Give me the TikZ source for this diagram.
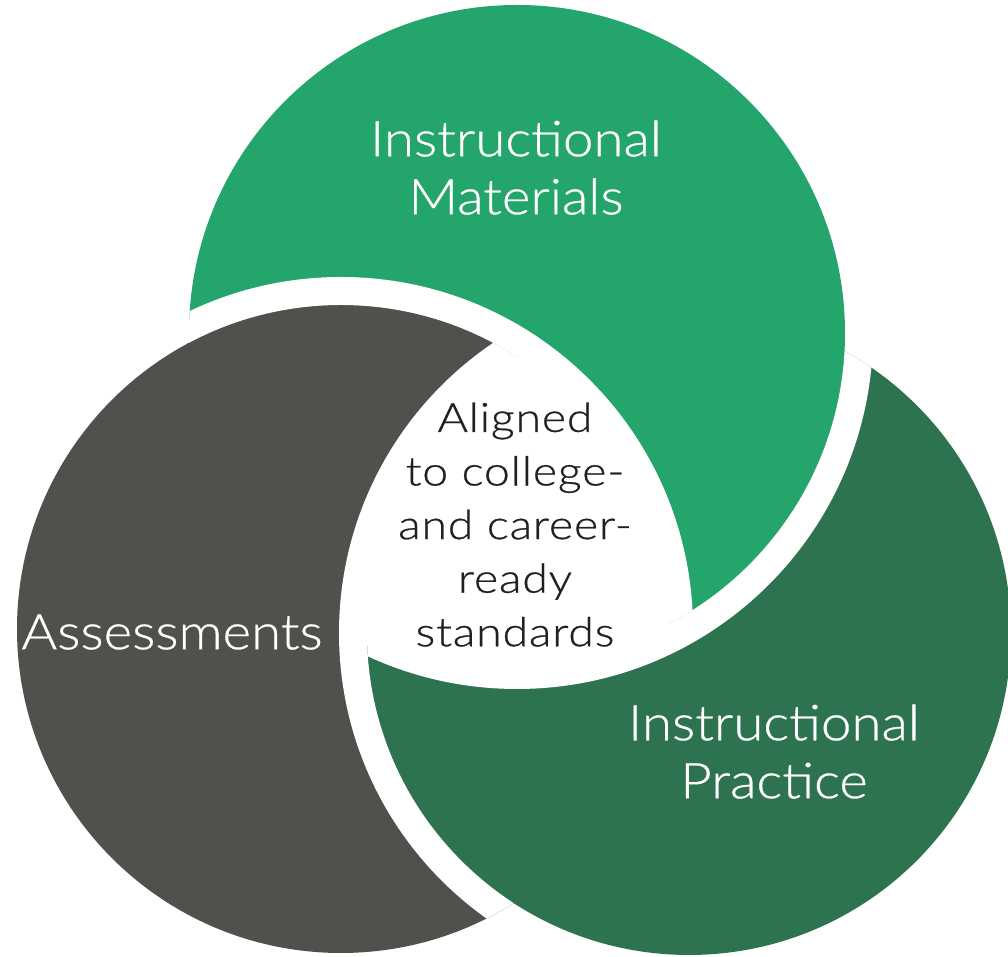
\documentclass[tikz,border=0pt]{standalone}
\usepackage{fontspec}
\setmainfont{Lato}
\IfFontExistsTF{Lato Light}
  {\newfontfamily\labelfont[FakeStretch=1.11,FakeBold=0.6]{Lato Light}
   \newfontfamily\corefont[FakeStretch=1.15,LetterSpace=2,FakeBold=0.6]{Lato Light}}
  {\newfontfamily\labelfont[FakeStretch=1.11]{Lato}
   \newfontfamily\corefont[FakeStretch=1.15,LetterSpace=2]{Lato}}
\definecolor{matgreen}{HTML}{23A56B}
\definecolor{pracgreen}{HTML}{2E7350}
\definecolor{assgray}{HTML}{50504C}
\definecolor{coretext}{HTML}{231F20}
\begin{document}
\begin{tikzpicture}[x=0.2mm,y=0.2mm,
  biglabel/.style={text=white,align=center,inner sep=0pt,anchor=south,
    font=\labelfont\fontsize{28}{33}\selectfont},
  corelabel/.style={text=coretext,align=center,inner sep=0pt,anchor=south,
    font=\corefont\fontsize{23}{30.5}\selectfont},
  ring/.style={fill=white,even odd rule}]
\useasboundingbox (0,0) rectangle (1008,957);
\coordinate (cG) at (517,624);
\coordinate (cA) at (341,328);
\coordinate (cD) at (689,324);
% base discs (materials disc last, so it lies over practice)
\fill[assgray] (cA) circle (324);
\fill[pracgreen] (cD) circle (322);
\fill[matgreen] (cG) circle (328);
% assessments over materials
\begin{scope}\clip (cG) circle (330);\fill[assgray] (cA) circle (324);\end{scope}
% practice over assessments
\begin{scope}\clip (cA) circle (326);\fill[pracgreen] (cD) circle (322);\end{scope}
% white rings
\begin{scope}\clip (cG) circle (328);\fill[ring] (cA) circle (352) (cA) circle (324);\end{scope}
\begin{scope}\clip (cD) circle (322);\fill[ring] (cG) circle (356) (cG) circle (328);\end{scope}
\begin{scope}\clip (cA) circle (324);\fill[ring] (cD) circle (350) (cD) circle (322);\end{scope}
% common core
\begin{scope}\clip (cA) circle (327);\clip (cG) circle (331);\fill[white] (cD) circle (325);\end{scope}
% labels
\node[biglabel] (mat) at (516,742) {Instructional\\Materials};
\node[biglabel] (prac) at (774,158) {Instructional\\Practice};
\node[biglabel] (ass) at (172,307) {Assessments};
\node[corelabel] (core) at (515,310) {Aligned\\to college-\\and career-\\ready\\standards};
\end{tikzpicture}
\end{document}
